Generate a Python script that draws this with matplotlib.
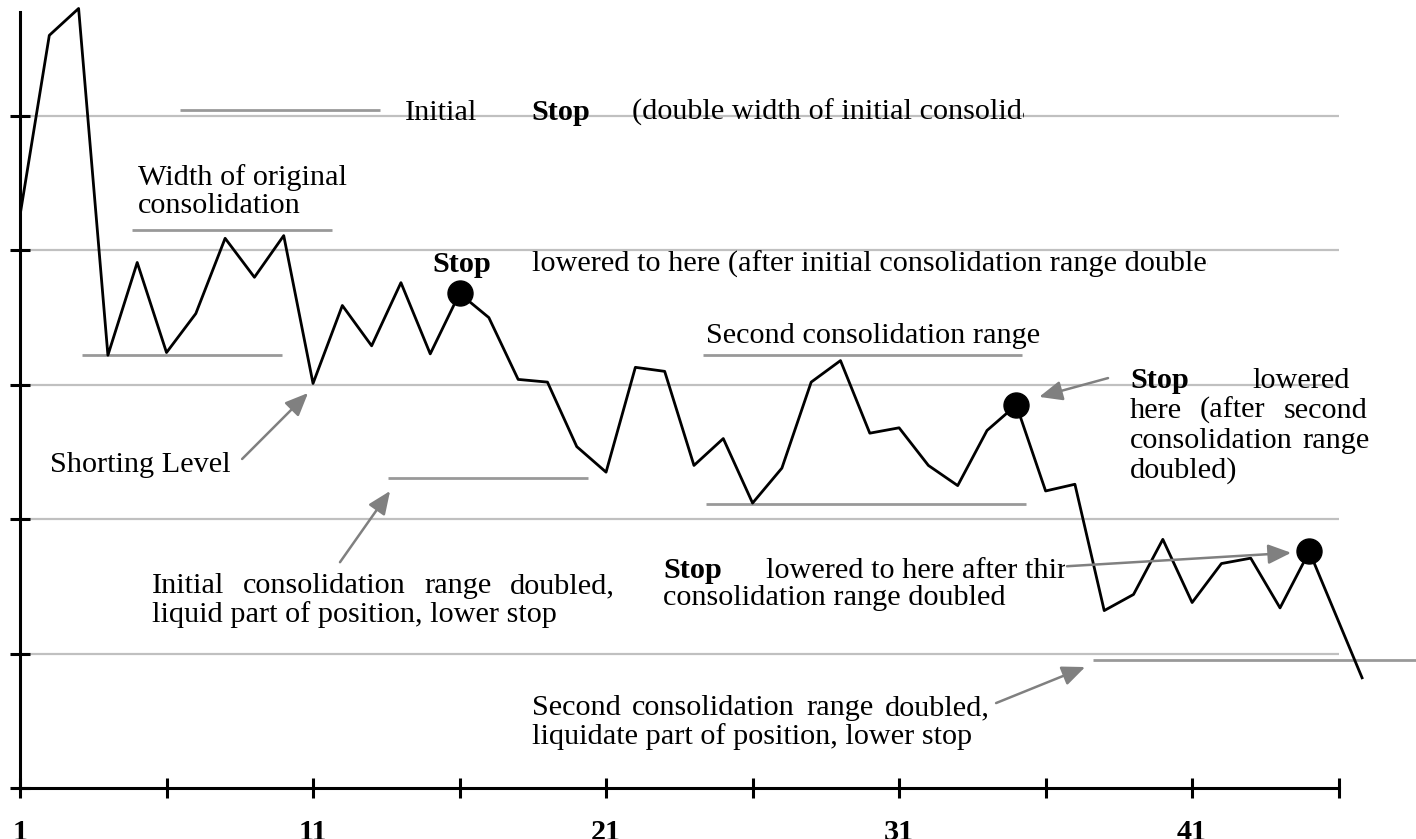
import numpy as np
import matplotlib
matplotlib.use('Agg')
from matplotlib import pyplot as plt
from matplotlib.transforms import Bbox, TransformedBbox

plt.rcParams['font.family'] = ['Liberation Serif', 'DejaVu Serif']
FS = 21.8

# price path (day, level)
days = [1, 2, 3, 4, 5, 6, 7, 8, 9, 10, 11, 12, 13, 14, 15, 16, 17, 18, 19, 20,
        21, 22, 23, 24, 25, 26, 27, 28, 29, 30, 31, 32, 33, 34, 35, 36, 37, 38,
        39, 40, 41, 42, 43, 44, 45, 46.8]
price = [4.26, 5.60, 5.80, 3.22, 3.91, 3.24, 3.53, 4.09, 3.80, 4.11, 3.01, 3.59,
         3.29, 3.76, 3.23, 3.68, 3.50, 3.04, 3.02, 2.54, 2.35, 3.13, 3.10, 2.40,
         2.60, 2.12, 2.38, 3.02, 3.18, 2.64, 2.68, 2.40, 2.25, 2.66, 2.85, 2.21,
         2.26, 1.32, 1.44, 1.85, 1.38, 1.67, 1.71, 1.34, 1.76, 0.82]

# stop points
stop_days = [16, 35, 45]
stop_price = [3.68, 2.85, 1.76]

# gridlines
grid_levels = [1, 2, 3, 4, 5]

# consolidation range segments: (level, start, end)
segments = [(5.045, 6.46, 13.29), (4.15, 4.82, 11.65), (3.22, 3.12, 9.94),
            (2.31, 13.56, 20.39), (3.22, 24.31, 35.20), (2.11, 24.41, 35.33),
            (0.95, 37.62, 48.7)]

xticks = [1, 6, 11, 16, 21, 26, 31, 36, 41, 46]
xticklabels = ['1', '', '11', '', '21', '', '31', '', '41', '']

fig = plt.figure(figsize=(14.16, 8.39), dpi=100)
ax = fig.add_axes([20 / 1416, 51 / 839, 1396 / 1416, 788 / 839])
ax.set_xlim(1, 48.64)
ax.set_ylim(0, 5.863)

for lv in grid_levels:
    ax.plot([1, 46], [lv, lv], color='#c0c0c0', lw=1.6, zorder=1, solid_capstyle='butt')
for lv, a, b in segments:
    ax.plot([a, b], [lv, lv], color='#999999', lw=2, zorder=1, solid_capstyle='butt',
            clip_on=False)

ax.plot(days, price, color='black', lw=2, zorder=3)
ax.plot(stop_days, stop_price, 'o', color='black', ms=18, zorder=4)

for s in ['top', 'right']:
    ax.spines[s].set_visible(False)
ax.spines['bottom'].set_bounds(1, 46)
ax.spines['left'].set_bounds(0, 5.77)
for s in ['bottom', 'left']:
    ax.spines[s].set_linewidth(2.2)
ax.set_xticks(xticks)
ax.set_xticklabels(xticklabels, fontweight='bold', fontsize=FS)
ax.set_yticks([0, 1, 2, 3, 4, 5])
ax.set_yticklabels([])
ax.tick_params(direction='inout', length=15, width=2.2, pad=15)

kw = dict(fontsize=FS, va='baseline', ha='left', zorder=5)
bold = dict(kw, fontweight='bold')
renderer = fig.canvas.get_renderer()
inv = ax.transData.inverted()


def clipped(x, y, s, xmax):
    t = ax.text(x, y, s, clip_on=True, **kw)
    t.set_clip_box(TransformedBbox(Bbox([[0, -1], [xmax, 7]]), ax.transData))


def justify(items, x0, x1, y):
    # spread the words of one line between x0 and x1
    ts = [ax.text(x0, y, w, **kw) for w in items]
    widths = []
    for t in ts:
        bb = t.get_window_extent(renderer)
        widths.append(inv.transform((bb.x1, 0))[0] - inv.transform((bb.x0, 0))[0])
    gap = (x1 - x0 - sum(widths)) / (len(ts) - 1)
    x = x0
    for t, w in zip(ts, widths):
        t.set_x(x)
        x += w + gap


# top annotations
ax.text(5.03, 4.487, 'Width of original', **kw)
ax.text(5.03, 4.278, 'consolidation', **kw)
ax.text(14.14, 4.97, 'Initial', **kw)
ax.text(18.44, 4.97, 'Stop', **bold)
clipped(21.89, 4.97, '(double width of initial consolidation range)', 35.27)
ax.text(15.06, 3.839, 'Stop', **bold)
clipped(18.47, 3.839, 'lowered to here (after initial consolidation range doubled)', 41.55)
ax.text(24.41, 3.311, 'Second consolidation range', **kw)

# right block
ax.text(38.88, 2.976, 'Stop', **bold)
ax.text(43.05, 2.976, 'lowered', **kw)
justify(['here', '(after', 'second'], 38.88, 46.98, 2.753)
justify(['consolidation', 'range'], 38.88, 47.05, 2.530)
ax.text(38.88, 2.307, 'doubled)', **kw)

ax.text(2.02, 2.351, 'Shorting Level', **kw)

justify(['Initial', 'consolidation', 'range', 'doubled,'], 5.50, 21.30, 1.451)
ax.text(5.50, 1.235, 'liquid part of position, lower stop', **kw)

ax.text(22.95, 1.5625, 'Stop', **bold)
clipped(26.46, 1.5625, 'lowered to here after third', 36.67)
ax.text(22.95, 1.362, 'consolidation range doubled', **kw)

justify(['Second', 'consolidation', 'range', 'doubled,'], 18.47, 34.10, 0.543)
ax.text(18.47, 0.327, 'liquidate part of position, lower stop', **kw)

# arrows
arrows = [((8.58, 2.448), (10.83, 2.939)),
          ((11.92, 1.68), (13.63, 2.21)),
          ((38.13, 3.05), (35.78, 2.91)),
          ((36.73, 1.65), (44.38, 1.75)),
          ((34.31, 0.632), (37.35, 0.90))]
for tail, head in arrows:
    ax.annotate('', xy=head, xytext=tail, zorder=6,
                arrowprops=dict(arrowstyle='-|>,head_length=0.7,head_width=0.3',
                                color='#808080', lw=1.8, mutation_scale=20,
                                shrinkA=0, shrinkB=0))

plt.savefig('out.png', dpi=100)
